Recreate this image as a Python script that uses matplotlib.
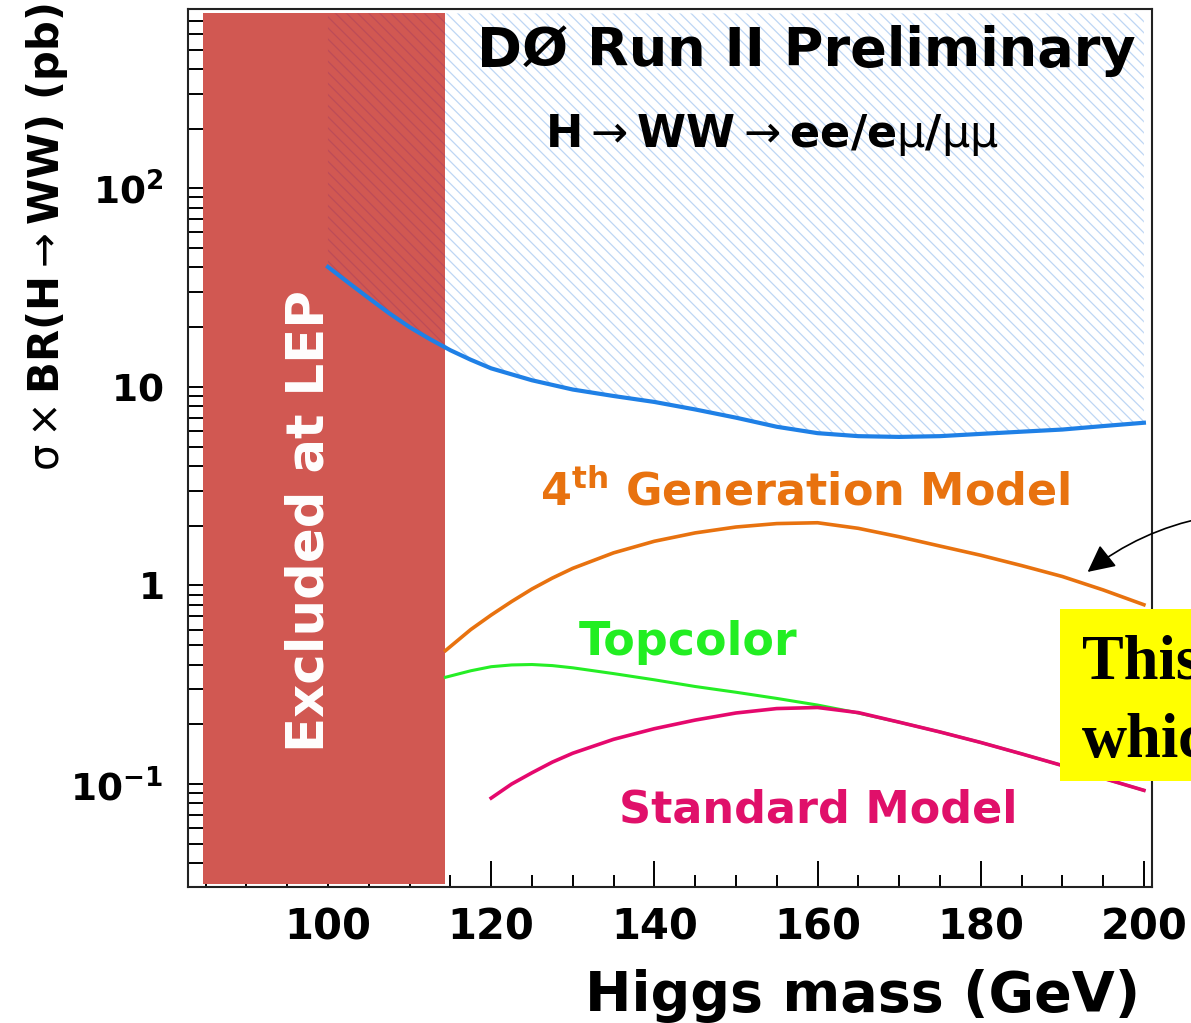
import matplotlib.pyplot as plt
from matplotlib import font_manager
from matplotlib.patches import Rectangle
from matplotlib.ticker import MultipleLocator

# =====================
# data
# =====================

lep_limit = 114.4   # GeV, LEP exclusion

# observed 95% CL limit on sigma x BR(H->WW) (pb)
mass_obs = [100, 102.5, 105, 107.5, 110, 112.5, 115, 117.5, 120, 125, 130, 135, 140,
            145, 150, 155, 160, 165, 170, 175, 180, 185, 190, 195, 200]
limit_obs = [40.2, 33.5, 28.0, 23.5, 20.0, 17.4, 15.3, 13.7, 12.4, 10.8, 9.7, 9.0, 8.4,
             7.7, 7.0, 6.3, 5.85, 5.65, 5.6, 5.65, 5.8, 5.95, 6.1, 6.35, 6.6]

# model predictions (pb)
mass_model = [114.4, 117.5, 120, 122.5, 125, 127.5, 130, 135, 140, 145, 150, 155,
              160, 165, 170, 175, 180, 185, 190, 195, 200]
xs_4th_gen = [0.47, 0.60, 0.71, 0.83, 0.96, 1.09, 1.22, 1.46, 1.67, 1.84, 1.97, 2.05,
              2.07, 1.94, 1.76, 1.58, 1.42, 1.26, 1.11, 0.95, 0.80]
xs_topcolor = [0.345, 0.372, 0.39, 0.398, 0.40, 0.395, 0.385, 0.36, 0.335, 0.31, 0.29, 0.27,
               0.25, 0.228, 0.205, 0.183, 0.162, 0.142, 0.124, 0.107, 0.093]

mass_sm = [120, 122.5, 125, 127.5, 130, 135, 140, 145, 150, 155, 160,
           165, 170, 175, 180, 185, 190, 195, 200]
xs_sm = [0.085, 0.100, 0.114, 0.129, 0.143, 0.168, 0.19, 0.21, 0.228, 0.240, 0.243,
         0.229, 0.205, 0.183, 0.162, 0.142, 0.124, 0.107, 0.093]

x_ticks = [100, 120, 140, 160, 180, 200]
y_ticks = [0.1, 1, 10, 100]
y_tick_labels = [r'$\mathbf{10^{-1}}$', r'$\mathbf{1}$', r'$\mathbf{10}$', r'$\mathbf{10^{2}}$']

# =====================
# fonts
# =====================

plt.rcParams['font.family'] = 'DejaVu Sans'
plt.rcParams['mathtext.fontset'] = 'dejavusans'
plt.rcParams['hatch.linewidth'] = 0.9

installed = {f.name for f in font_manager.fontManager.ttflist}
if 'Liberation Sans Narrow' in installed:
    narrow = ['Liberation Sans Narrow', 'DejaVu Sans']
    ylab_size, lep_size = 40, 48
else:
    narrow = ['DejaVu Sans']
    ylab_size, lep_size = 30, 37

# =====================
# plot
# =====================

fig = plt.figure(figsize=(11.91, 10.23), dpi=100)
ax = fig.add_axes([0.1579, 0.1329, 0.8094, 0.8583])
ax.set_yscale('log')
ax.set_xlim(82.85, 201.0)
ax.set_ylim(0.0303, 800)

top = ax.get_ylim()[1] * 0.95

# excluded region above the observed limit
ax.fill_between(mass_obs, limit_obs, top, facecolor='white', edgecolor='#bdd6f4',
                hatch='\\\\\\', linewidth=0, zorder=1)

# LEP band, with the hatch showing through above the limit
lep = ax.axvspan(84.7, lep_limit, ymin=0.0035, ymax=0.9955, facecolor='#d15852',
                 linewidth=0, zorder=2)
dark = ax.fill_between(mass_obs, limit_obs, top, facecolor='none', edgecolor='#bd4c58',
                       hatch='\\\\\\', linewidth=0, zorder=2.5)
dark.set_clip_path(lep)

ax.text(0.140, 0.417, 'Excluded at LEP', transform=ax.transAxes, rotation=90,
        rotation_mode='anchor', ha='center', va='baseline', color='white',
        fontsize=lep_size, fontweight='bold', family=narrow, zorder=3)

ax.plot(mass_obs, limit_obs, color='#1f80e6', lw=3.0, zorder=4)
ax.plot(mass_model, xs_4th_gen, color='#e8720f', lw=2.6, zorder=4)
ax.plot(mass_model, xs_topcolor, color='#25ee25', lw=2.2, zorder=4)
ax.plot(mass_sm, xs_sm, color='#e5086d', lw=2.6, zorder=4.1)

# labels inside the frame
ax.text(0.641, 0.935, 'DØ Run II Preliminary', transform=ax.transAxes,
        ha='center', va='baseline', fontsize=39, fontweight='bold', zorder=5)
ax.text(0.606, 0.843,
        r'H$\rightarrow$WW$\rightarrow$ee/e$\mathrm{\mu}$/$\mathrm{\mu\mu}$',
        transform=ax.transAxes, ha='center', va='baseline', fontsize=32,
        fontweight='bold', zorder=5)
ax.text(0.640, 0.435, r'4$^{\mathbf{th}}$ Generation Model', transform=ax.transAxes,
        ha='center', va='baseline', fontsize=32, fontweight='bold', color='#e8720f')
ax.text(0.519, 0.264, 'Topcolor', transform=ax.transAxes, ha='center', va='baseline',
        fontsize=33, fontweight='bold', color='#22ee22')
ax.text(0.654, 0.074, 'Standard Model', transform=ax.transAxes, ha='center',
        va='baseline', fontsize=32, fontweight='bold', color='#e0106a')

# axes
for sp in ax.spines.values():
    sp.set_linewidth(1.5)
    sp.set_color('#222222')

ax.set_xticks(x_ticks, labels=[str(t) for t in x_ticks], fontsize=30, fontweight='bold')
ax.xaxis.set_minor_locator(MultipleLocator(5))
ax.set_yticks(y_ticks, labels=y_tick_labels, fontsize=27)
ax.tick_params(which='both', direction='in', top=False, right=False, width=1.4)
ax.tick_params(axis='x', which='major', length=18.7, pad=14)
ax.tick_params(axis='x', which='minor', length=8.6)
ax.tick_params(axis='y', which='major', length=21.6, pad=18)
ax.tick_params(axis='y', which='minor', length=11.5)

ax.set_xlabel('Higgs mass (GeV)', fontsize=40, fontweight='bold', ha='right', va='center')
ax.xaxis.set_label_coords(0.9876, -0.124)
ax.set_ylabel(r'$\mathrm{\sigma}\times$BR(H$\rightarrow$WW) (pb)', fontsize=ylab_size,
              fontweight='bold', family=narrow, ha='center', va='center',
              rotation_mode='default')
ax.yaxis.set_label_coords(-0.146, 0.740)

# note box and arrow at the right edge
fig.add_artist(Rectangle((0.890, 0.2366), 0.2, 0.168, transform=fig.transFigure,
                         facecolor='#ffff00', edgecolor='none', zorder=5))
fig.text(0.9085, 0.337, 'This', family='Liberation Serif', fontweight='bold',
         fontsize=45, zorder=6)
fig.text(0.9085, 0.260, 'which', family='Liberation Serif', fontweight='bold',
         fontsize=45, zorder=6)
ax.annotate('', xy=(193.1, 1.17), xytext=(207.5, 2.2),
            arrowprops=dict(arrowstyle='-|>', color='black', lw=1.2, mutation_scale=42,
                            connectionstyle='arc3,rad=0.12', shrinkA=0, shrinkB=0),
            annotation_clip=False)

fig.savefig('out.png', dpi=100)
